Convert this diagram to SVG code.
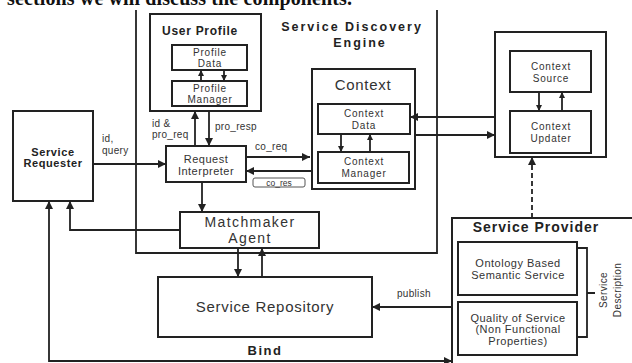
<svg xmlns="http://www.w3.org/2000/svg" width="632" height="363" viewBox="0 0 632 363">
<defs>
<style>
.box{fill:#fff;stroke:#222;stroke-width:2}
.ln{fill:none;stroke:#222;stroke-width:1.8}
.t{font-family:"Liberation Sans",Arial,sans-serif;fill:#333;text-anchor:middle}
.s{font-size:10px;letter-spacing:0.8px}
.m{font-size:11px;letter-spacing:0.5px}
.l{font-size:15px;letter-spacing:0.7px}
.b{font-weight:bold;fill:#222}
.lab{font-family:"Liberation Sans",Arial,sans-serif;fill:#333;font-size:10px;letter-spacing:0.3px}
</style>
<marker id="ah" viewBox="0 0 10 10" refX="10" refY="5" markerWidth="8" markerHeight="8" markerUnits="userSpaceOnUse" orient="auto-start-reverse">
<path d="M0,0 L10,5 L0,10 z" fill="#222"/>
</marker>
<marker id="ahs" viewBox="0 0 10 10" refX="10" refY="5" markerWidth="6" markerHeight="6" markerUnits="userSpaceOnUse" orient="auto-start-reverse">
<path d="M0,0 L10,5 L0,10 z" fill="#222"/>
</marker>
</defs>
<rect width="632" height="363" fill="#fff"/>
<text x="7" y="4.5" font-family="Liberation Serif,'Times New Roman',serif" font-size="20" font-weight="bold" fill="#111" textLength="345">sections we will discuss the components.</text>

<g id="engine">
<path class="ln" d="M136,10 V253 H437 V10" stroke-width="1.5"/>
<text class="t b" x="352" y="31" font-size="12.5" letter-spacing="2">Service Discovery</text>
<text class="t b" x="360" y="47" font-size="12.5" letter-spacing="2">Engine</text>
</g>

<g id="user-profile">
<rect class="box" x="150" y="14" width="111" height="97"/>
<text class="t b" x="200" y="35" font-size="12" letter-spacing="0.7">User Profile</text>
</g>
<g id="profile-data">
<rect class="box" x="172" y="45" width="75" height="25"/>
<text class="t s" x="210" y="56">Profile</text>
<text class="t s" x="210" y="67">Data</text>
</g>
<g id="profile-manager">
<rect class="box" x="172" y="81" width="75" height="25"/>
<text class="t s" x="210" y="92">Profile</text>
<text class="t s" x="210" y="103">Manager</text>
</g>

<g id="service-requester">
<rect class="box" x="13" y="111" width="80" height="90"/>
<text class="t b" x="53" y="156" font-size="11" letter-spacing="0.6">Service</text>
<text class="t b" x="53" y="167" font-size="11" letter-spacing="0.6">Requester</text>
</g>

<g id="request-interpreter">
<rect class="box" x="166" y="146" width="80" height="36"/>
<text class="t m" x="206" y="163">Request</text>
<text class="t m" x="206" y="175">Interpreter</text>
</g>

<g id="context">
<rect class="box" x="312" y="69" width="103" height="120"/>
<text class="t l" x="363" y="90">Context</text>
</g>
<g id="context-data">
<rect class="box" x="318" y="104" width="92" height="30"/>
<text class="t s" x="364" y="117">Context</text>
<text class="t s" x="364" y="129">Data</text>
</g>
<g id="context-manager">
<rect class="box" x="318" y="152" width="91" height="31"/>
<text class="t s" x="364" y="165">Context</text>
<text class="t s" x="364" y="177">Manager</text>
</g>

<g id="context-provider">
<rect class="box" x="495" y="32" width="111" height="125"/>
</g>
<g id="context-source">
<rect class="box" x="510" y="51" width="81" height="41"/>
<text class="t s" x="551" y="70">Context</text>
<text class="t s" x="551" y="82">Source</text>
</g>
<g id="context-updater">
<rect class="box" x="510" y="111" width="81" height="42"/>
<text class="t s" x="551" y="130">Context</text>
<text class="t s" x="551" y="142">Updater</text>
</g>

<g id="matchmaker">
<rect class="box" x="180" y="212" width="139" height="36"/>
<text class="t" x="250" y="227" font-size="14" letter-spacing="1.4">Matchmaker</text>
<text class="t" x="250" y="243" font-size="14" letter-spacing="1.4">Agent</text>
</g>

<g id="service-repository">
<rect class="box" x="158" y="277" width="214" height="60"/>
<text class="t l" x="265" y="312" letter-spacing="0.6">Service Repository</text>
</g>

<g id="service-provider">
<rect class="box" x="452" y="218" width="200" height="160"/>
<text class="t b" x="536" y="232" font-size="14" letter-spacing="1">Service Provider</text>
</g>
<g id="ontology">
<rect class="box" x="458" y="242" width="119" height="53"/>
<text class="t m" x="518" y="267">Ontology Based</text>
<text class="t m" x="518" y="279">Semantic Service</text>
</g>
<g id="quality">
<rect class="box" x="458" y="302" width="119" height="53"/>
<text class="t m" x="518" y="322">Quality of Service</text>
<text class="t m" x="518" y="333">(Non Functional</text>
<text class="t m" x="518" y="345">Properties)</text>
</g>
<g id="service-description">
<path class="ln" d="M577,248 H587 V337 H577 M587,293 H595"/>
<text class="t" font-size="10" letter-spacing="0.4" transform="translate(607,290) rotate(-90)">Service</text>
<text class="t" font-size="10" letter-spacing="0.4" transform="translate(621,290) rotate(-90)">Description</text>
</g>

<g id="connectors">
<line class="ln" x1="201" y1="81" x2="201" y2="70" marker-end="url(#ahs)"/>
<line class="ln" x1="224" y1="70" x2="224" y2="81" marker-end="url(#ahs)"/>
<line class="ln" x1="195" y1="146" x2="195" y2="111" marker-end="url(#ah)"/>
<line class="ln" x1="209" y1="111" x2="209" y2="146" marker-end="url(#ah)"/>
<text class="lab" x="152" y="127">id &amp;</text>
<text class="lab" x="152" y="138">pro_req</text>
<text class="lab" x="215" y="130">pro_resp</text>
<line class="ln" x1="93" y1="164" x2="166" y2="164" marker-end="url(#ah)"/>
<text class="lab" x="102" y="142">id,</text>
<text class="lab" x="102" y="154">query</text>
<line class="ln" x1="246" y1="157" x2="310" y2="157" marker-end="url(#ah)"/>
<text class="lab" x="255" y="150">co_req</text>
<line class="ln" x1="312" y1="171" x2="246" y2="171" marker-end="url(#ah)"/>
<rect x="253" y="178" width="52" height="9" rx="2" fill="#fff" stroke="#555" stroke-width="1"/>
<text class="t" font-size="8.5" x="279" y="185.5">co_res</text>
<line class="ln" x1="341" y1="134" x2="341" y2="152" marker-end="url(#ahs)"/>
<line class="ln" x1="370" y1="152" x2="370" y2="134" marker-end="url(#ahs)"/>
<line class="ln" x1="495" y1="117" x2="410" y2="117" marker-end="url(#ah)"/>
<line class="ln" x1="415" y1="135" x2="495" y2="135" marker-end="url(#ah)"/>
<line class="ln" x1="539" y1="92" x2="539" y2="111" marker-end="url(#ahs)"/>
<line class="ln" x1="562" y1="111" x2="562" y2="92" marker-end="url(#ahs)"/>
<line class="ln" x1="532" y1="218" x2="532" y2="157" stroke-dasharray="5,3" marker-end="url(#ah)"/>
<line class="ln" x1="202" y1="182" x2="202" y2="212" marker-end="url(#ah)"/>
<path class="ln" d="M180,230 H70 V201" marker-end="url(#ah)"/>
<line class="ln" x1="238" y1="248" x2="238" y2="277" marker-end="url(#ah)"/>
<line class="ln" x1="262" y1="277" x2="262" y2="248" marker-end="url(#ah)"/>
<line class="ln" x1="452" y1="307" x2="372" y2="307" marker-end="url(#ah)"/>
<text class="lab" x="397" y="297">publish</text>
<path class="ln" d="M49,201 V361 H452" marker-start="url(#ah)" marker-end="url(#ah)"/>
<text class="t b" x="265" y="355" font-size="13" letter-spacing="1.5">Bind</text>
</g>
</svg>
